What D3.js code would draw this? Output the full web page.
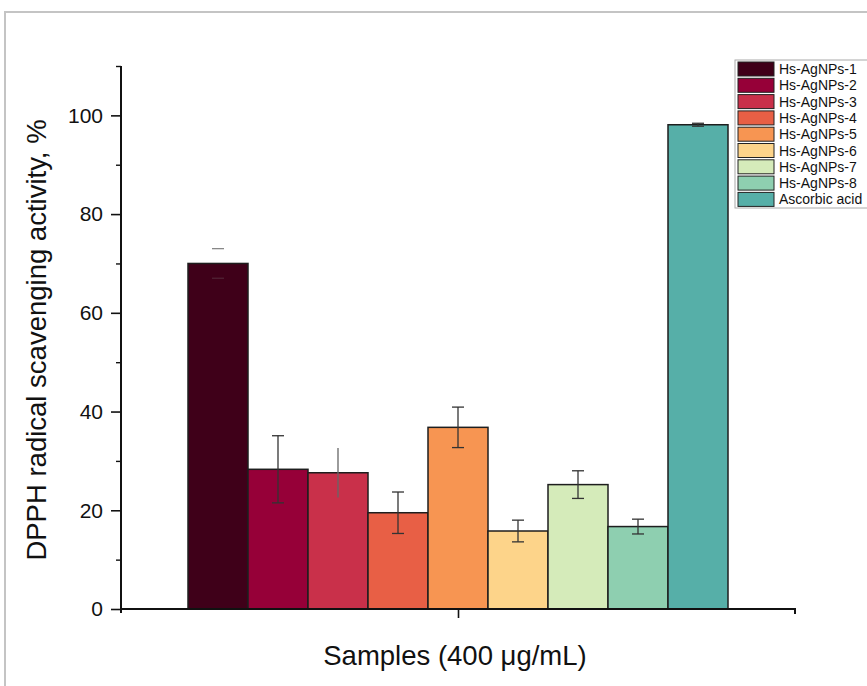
<!DOCTYPE html>
<html><head><meta charset="utf-8">
<script src="https://cdn.jsdelivr.net/npm/d3@7/dist/d3.min.js"></script>
<style>body{margin:0;background:#fff}svg{display:block;font-family:Arial,"Liberation Sans",sans-serif}</style>
</head><body><svg id="c" width="867" height="686"></svg>
<script>
const categories = ["Hs-AgNPs-1","Hs-AgNPs-2","Hs-AgNPs-3","Hs-AgNPs-4","Hs-AgNPs-5","Hs-AgNPs-6","Hs-AgNPs-7","Hs-AgNPs-8","Ascorbic acid"];
const values = [70.0, 28.3, 27.6, 19.5, 36.8, 15.8, 25.2, 16.7, 98.1];
const errors = [3.0, 6.8, 5.0, 4.2, 4.1, 2.2, 2.8, 1.5, 0.3];
const colors = ["#3f0019","#960038","#c9304a","#e85f45","#f79552","#fdd48a","#d5ebba","#8ecfb0","#56afa8"];
const yTicks = [0,20,40,60,80,100];

const svg = d3.select("#c");
svg.append("rect").attr("x",5).attr("y",12).attr("width",900).attr("height",700)
  .attr("fill","none").attr("stroke","#c4c4c4").attr("stroke-width",2);

const x0 = 121, x1 = 795, yTop = 66, yBot = 609;
const y = d3.scaleLinear().domain([0,110]).range([yBot, yTop]);
const xb = d3.scaleBand().domain(categories).range([188, 728]).padding(0);

const g = svg.append("g");
g.selectAll("rect.bar").data(categories).join("rect").attr("class","bar")
  .attr("x", d=>xb(d)).attr("width", xb.bandwidth())
  .attr("y", (d,i)=>y(values[i])).attr("height",(d,i)=>yBot-y(values[i]))
  .attr("fill",(d,i)=>colors[i]).attr("stroke","#1e1e1e").attr("stroke-width",1.5);

// error bars
const eb = g.selectAll("g.err").data(categories).join("g").attr("class","err")
  .attr("stroke",(d,i)=> i===0? "#888" : (i===2 ? "#666" : "#333")).attr("stroke-width",1.3);
eb.append("line").attr("x1",d=>xb(d)+xb.bandwidth()/2).attr("x2",d=>xb(d)+xb.bandwidth()/2)
  .attr("y1",(d,i)=>y(values[i]+errors[i])).attr("y2",(d,i)=>y(values[i]-errors[i]))
  .attr("stroke-opacity",(d,i)=> i===0?0:1);
[1,-1].forEach(s=>{
  eb.append("line").attr("x1",d=>xb(d)+xb.bandwidth()/2-6).attr("x2",d=>xb(d)+xb.bandwidth()/2+6)
    .attr("y1",(d,i)=>y(values[i]+s*errors[i])).attr("y2",(d,i)=>y(values[i]+s*errors[i]))
    .attr("stroke-opacity",(d,i)=> i===2?0:(i===0 && s<0 ? 0.25 : 1));
});

// y axis
const yAxis = d3.axisLeft(y).tickValues(yTicks).tickSize(10).tickPadding(8).tickFormat(d3.format("d"));
const ya = svg.append("g").attr("transform",`translate(${x0},0)`).call(yAxis);
ya.select(".domain").attr("d",`M0,${yTop}V${yBot+4}`).attr("stroke","#111").attr("stroke-width",2);
ya.selectAll(".tick line").attr("stroke","#111").attr("stroke-width",1.6);
ya.selectAll(".tick text").attr("font-size",21).attr("fill","#111").attr("font-family","Arial, Liberation Sans, sans-serif");
const minor = svg.append("g").attr("transform",`translate(${x0},0)`).call(d3.axisLeft(y).tickValues([10,30,50,70,90,110]).tickSize(5).tickFormat(""));
minor.select(".domain").remove();
minor.selectAll(".tick line").attr("stroke","#111").attr("stroke-width",1.4);

// x axis
const xs = d3.scaleLinear().domain([0,1]).range([x0,x1]);
const xa = svg.append("g").attr("transform",`translate(0,${yBot})`)
  .call(d3.axisBottom(xs).tickValues([(458-x0)/(x1-x0)]).tickSize(9).tickFormat(""));
xa.select(".domain").attr("d",`M${x0},0H${x1}V5`).attr("stroke","#111").attr("stroke-width",2).attr("fill","none");
xa.selectAll(".tick line").attr("stroke","#111").attr("stroke-width",1.6);

// labels
svg.append("text").attr("x",455).attr("y",665).attr("text-anchor","middle").attr("font-size",27.5).attr("fill","#111")
  .text("Samples (400 μg/mL)");
svg.append("text").attr("transform","translate(46,340) rotate(-90)").attr("text-anchor","middle").attr("font-size",27.5).attr("fill","#111")
  .text("DPPH radical scavenging activity, %");

// legend
const lg = svg.append("g");
lg.append("rect").attr("x",735).attr("y",60).attr("width",140).attr("height",148).attr("fill","#fff").attr("stroke","#aaa").attr("stroke-width",1);
const li = lg.selectAll("g.li").data(categories).join("g").attr("transform",(d,i)=>`translate(0,${61+i*16.3})`);
li.append("rect").attr("x",738).attr("y",1).attr("width",36).attr("height",14).attr("fill",(d,i)=>colors[i]).attr("stroke","#222").attr("stroke-width",1);
li.append("text").attr("x",779).attr("y",13).attr("font-size",14).attr("fill","#111").text(d=>d);
</script></body></html>
